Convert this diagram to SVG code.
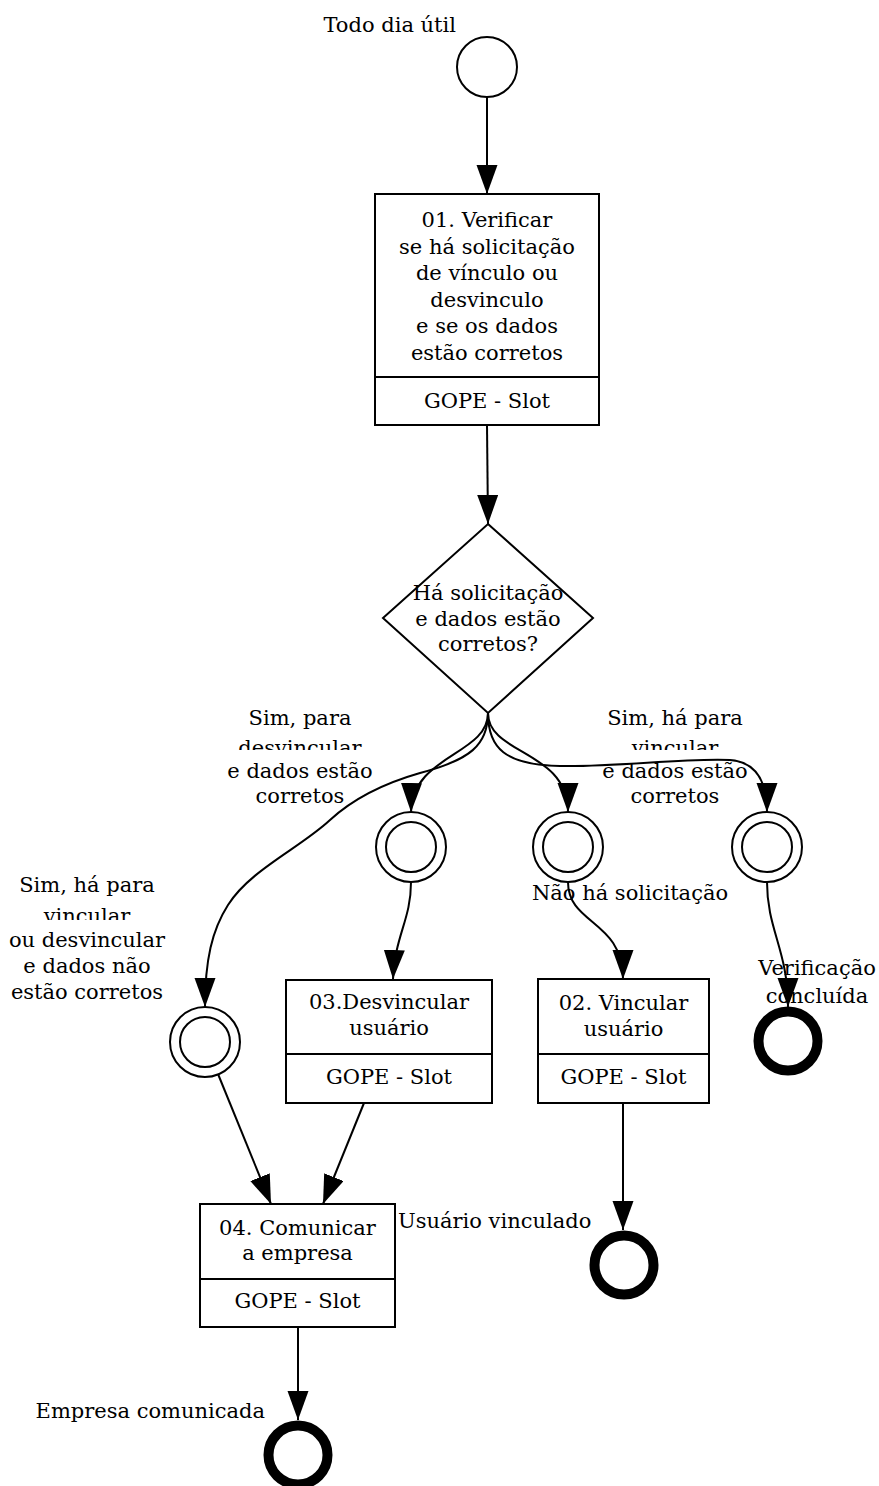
<svg xmlns="http://www.w3.org/2000/svg" width="879" height="1486" viewBox="0 0 879 1486">
<style>
text{font-family:"DejaVu Serif","Liberation Serif",serif;font-size:21px;fill:#000}
.c{text-anchor:middle}
.box{fill:#fff;stroke:#000;stroke-width:2}
.ln{stroke:#000;stroke-width:2}
.ev{fill:#fff;stroke:#000;stroke-width:2}
.end{fill:none;stroke:#000;stroke-width:10}
.e{fill:none;stroke:#000;stroke-width:2;marker-end:url(#ah)}
</style>
<defs>
<marker id="ah" markerUnits="userSpaceOnUse" markerWidth="31" markerHeight="22" refX="29" refY="10.5" orient="auto">
<path d="M0,0 L29,10.5 L0,21 Z" fill="#000"/>
</marker>
<clipPath id="cl1"><rect x="200" y="730" width="200" height="20"/></clipPath>
<clipPath id="cl2"><rect x="590" y="730" width="180" height="20"/></clipPath>
<clipPath id="cl3"><rect x="0" y="896" width="180" height="24"/></clipPath>
</defs>
<rect width="879" height="1486" fill="#fff"/>

<g id="start">
<circle class="ev" cx="487" cy="67" r="30"/>
<text x="456" y="32" text-anchor="end">Todo dia útil</text>
</g>

<g id="task01">
<rect class="box" x="375" y="194" width="224" height="231"/>
<line class="ln" x1="375" y1="377" x2="599" y2="377"/>
<text class="c" x="487" y="227">01. Verificar</text>
<text class="c" x="487" y="253.5">se há solicitação</text>
<text class="c" x="487" y="280">de vínculo ou</text>
<text class="c" x="487" y="306.5">desvinculo</text>
<text class="c" x="487" y="333">e se os dados</text>
<text class="c" x="487" y="359.5">estão corretos</text>
<text class="c" x="487" y="408">GOPE - Slot</text>
</g>

<g id="gateway">
<polygon points="488,524 593,618 488,713 383,618" fill="#fff" stroke="#000" stroke-width="2"/>
<text class="c" x="488" y="600">Há solicitação</text>
<text class="c" x="488" y="626">e dados estão</text>
<text class="c" x="488" y="651">corretos?</text>
</g>

<g id="ev-desvincular">
<circle class="ev" cx="411" cy="847" r="35"/>
<circle class="ev" cx="411" cy="847" r="25"/>
</g>
<g id="ev-nao">
<circle class="ev" cx="568" cy="847" r="35"/>
<circle class="ev" cx="568" cy="847" r="25"/>
</g>
<g id="ev-vincular">
<circle class="ev" cx="767" cy="847" r="35"/>
<circle class="ev" cx="767" cy="847" r="25"/>
</g>
<g id="ev-incorretos">
<circle class="ev" cx="205" cy="1042" r="35"/>
<circle class="ev" cx="205" cy="1042" r="25"/>
</g>

<g id="task03">
<rect class="box" x="286" y="980" width="206" height="123"/>
<line class="ln" x1="286" y1="1054" x2="492" y2="1054"/>
<text class="c" x="389" y="1009">03.Desvincular</text>
<text class="c" x="389" y="1035">usuário</text>
<text class="c" x="389" y="1084">GOPE - Slot</text>
</g>

<g id="task02">
<rect class="box" x="538" y="979" width="171" height="124"/>
<line class="ln" x1="538" y1="1054" x2="709" y2="1054"/>
<text class="c" x="623.5" y="1010">02. Vincular</text>
<text class="c" x="623.5" y="1036">usuário</text>
<text class="c" x="623.5" y="1084">GOPE - Slot</text>
</g>

<g id="task04">
<rect class="box" x="200" y="1204" width="195" height="123"/>
<line class="ln" x1="200" y1="1279" x2="395" y2="1279"/>
<text class="c" x="297.5" y="1235">04. Comunicar</text>
<text class="c" x="297.5" y="1260">a empresa</text>
<text class="c" x="297.5" y="1308">GOPE - Slot</text>
</g>

<g id="end-verificacao">
<circle class="end" cx="788" cy="1041" r="29.5"/>
<text class="c" x="817" y="975">Verificação</text>
<text class="c" x="817" y="1003">concluída</text>
</g>
<g id="end-vinculado">
<circle class="end" cx="624" cy="1265" r="29.5"/>
<text x="398" y="1228">Usuário vinculado</text>
</g>
<g id="end-comunicada">
<circle class="end" cx="298" cy="1455" r="29.5"/>
<text x="265" y="1418" text-anchor="end">Empresa comunicada</text>
</g>

<g id="labels">
<text class="c" x="300" y="725">Sim, para</text>
<text class="c" x="300" y="755" clip-path="url(#cl1)">desvincular</text>
<text class="c" x="300" y="778">e dados estão</text>
<text class="c" x="300" y="803">corretos</text>
<text class="c" x="675" y="725">Sim, há para</text>
<text class="c" x="675" y="755" clip-path="url(#cl2)">vincular</text>
<text class="c" x="675" y="778">e dados estão</text>
<text class="c" x="675" y="803">corretos</text>
<text class="c" x="87" y="892">Sim, há para</text>
<text class="c" x="87" y="923" clip-path="url(#cl3)">vincular</text>
<text class="c" x="87" y="947">ou desvincular</text>
<text class="c" x="87" y="973">e dados não</text>
<text class="c" x="87" y="999">estão corretos</text>
<text class="c" x="630" y="900">Não há solicitação</text>
</g>

<g id="connectors">
<path class="e" d="M487,97 L487,194"/>
<path class="e" d="M487,425 L488,524"/>
<path class="e" d="M488,713 C488,745 470,760 420,773 C385,783 355,797 330,820 C300,848 250,870 228,905 C212,930 205,960 205,1007"/>
<path class="e" d="M488,713 C488,755 412,755 411,812"/>
<path class="e" d="M488,713 C488,755 568,750 568,812"/>
<path class="e" d="M488,713 C488,748 505,765 560,766 C620,767 680,758 730,760 C755,762 767,780 767,812"/>
<path class="e" d="M411,882 C411,920 395,935 393,979"/>
<path class="e" d="M568,882 C568,925 623,920 623,979"/>
<path class="e" d="M767,882 C767,930 788,950 788,1007"/>
<path class="e" d="M218,1074 L271,1204"/>
<path class="e" d="M364,1103 L323,1204"/>
<path class="e" d="M623,1103 L623,1230"/>
<path class="e" d="M298,1327 L298,1420"/>
</g>
</svg>
